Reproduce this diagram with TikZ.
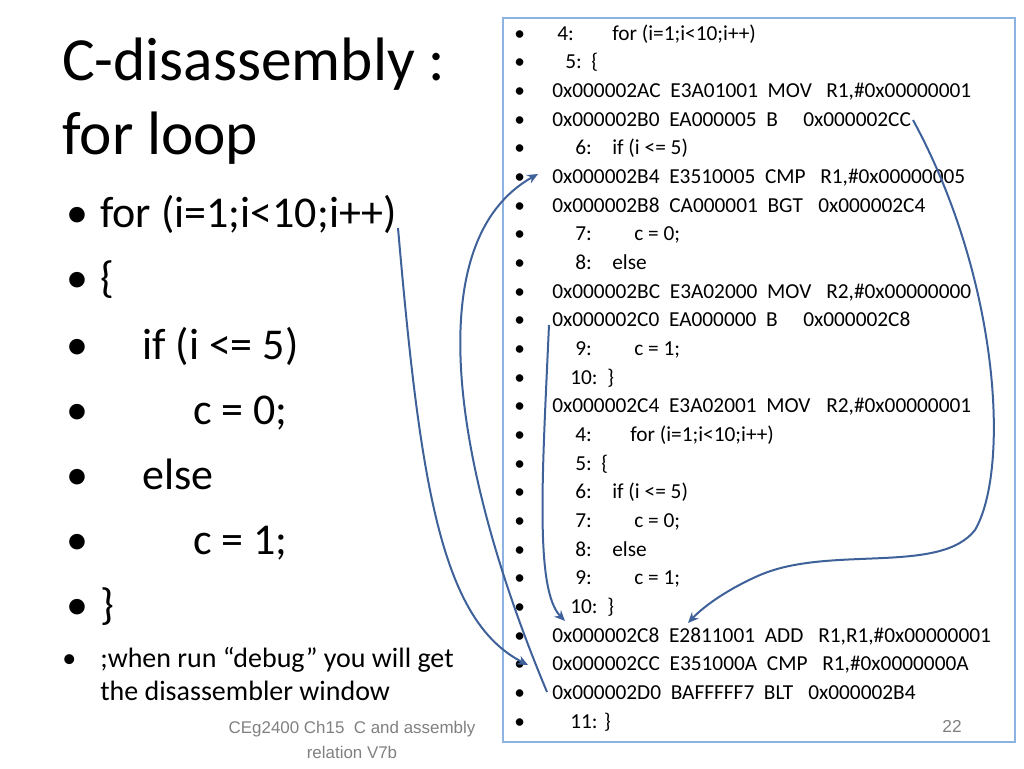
\documentclass[tikz,border=0pt]{standalone}
\usepackage{fontspec}
\usetikzlibrary{arrows.meta}
\setmainfont{Carlito}
\newfontfamily\arialf{Liberation Sans}
\begin{document}
\begin{tikzpicture}[x=0.75pt,y=-0.75pt,
  r/.style={anchor=base west,inner sep=0,font=\fontsize{16}{18}\selectfont},
  lb/.style={anchor=base west,inner sep=0,font=\fontsize{33}{38}\selectfont},
  arr/.style={draw=arrc,line width=1.5pt,-{Stealth[length=8pt,width=7pt]}}]
\definecolor{arrc}{HTML}{3F6199}
\definecolor{boxc}{HTML}{8DB3E2}
\useasboundingbox (0,0) rectangle (1024,768);
\draw[boxc,line width=0.8pt] (503,18) rectangle (1015,742);
% title
\node[anchor=base west,inner sep=0,font=\fontsize{46}{50}\selectfont] (t1) at (62,80) {C-disassembly :};
\node[anchor=base west,inner sep=0,font=\fontsize{46}{50}\selectfont] (t2) at (62,154) {for loop};
% left bullets
\foreach \y/\xx/\t [count=\i] in {227/100/{for (i=1;i<10;i++)},292/100/{\{},359/142/{if (i <= 5)},424/193/{c = 0;},489/142/{else},554/193/{c = 1;},619/100/{\}}}{
  \node[lb] (bl\i) at (66,\y) {•};
  \node[lb] (lt\i) at (\xx,\y) {\t};
}
\node[anchor=base west,inner sep=0,font=\fontsize{21}{25}\selectfont] (wb) at (62,667) {•};
\node[anchor=base west,inner sep=0,font=\fontsize{21}{25}\selectfont] (w1) at (100,667) {;when run “debug” you will get};
\node[anchor=base west,inner sep=0,font=\fontsize{21}{25}\selectfont] (w2) at (100,700) {the disassembler window};
\node[font=\arialf\fontsize{12.7}{19}\selectfont,text=gray,align=center,inner sep=0] (ft) at (352,740) {CEg2400 Ch15\ \ C and assembly\\relation V7b};
\node[font=\arialf\fontsize{13}{15}\selectfont,text=gray,inner sep=0] (pg) at (952,726) {22};
% right bullets
\foreach \i in {0,...,24}{ \node[r] (rb\i) at (514,40+\i*28.67) {•}; }
\newcommand{\Y}[1]{40+#1*28.67}
% source lines
\node[r] (s4) at (557,{\Y{0}}) {4:}; \node[r] at (612,{\Y{0}}) {for (i=1;i<10;i++)};
\node[r] (s5) at (565,{\Y{1}}) {5:\ \ \{};
\node[r] (a1) at (552,{\Y{2}}) {0x000002AC\ \ E3A01001\ \ MOV}; \node[r] at (826,{\Y{2}}) {R1,\#0x00000001};
\node[r] (a2) at (552,{\Y{3}}) {0x000002B0\ \ EA000005\ \ B}; \node[r] (a2t) at (803,{\Y{3}}) {0x000002CC};
\node[r] at (575,{\Y{4}}) {6:}; \node[r] at (612,{\Y{4}}) {if (i <= 5)};
\node[r] (a3) at (552,{\Y{5}}) {0x000002B4\ \ E3510005\ \ CMP}; \node[r] at (820,{\Y{5}}) {R1,\#0x00000005};
\node[r] (a4) at (552,{\Y{6}}) {0x000002B8\ \ CA000001\ \ BGT}; \node[r] at (818,{\Y{6}}) {0x000002C4};
\node[r] at (575,{\Y{7}}) {7:}; \node[r] at (634,{\Y{7}}) {c = 0;};
\node[r] at (575,{\Y{8}}) {8:}; \node[r] at (612,{\Y{8}}) {else};
\node[r] (a5) at (552,{\Y{9}}) {0x000002BC\ \ E3A02000\ \ MOV}; \node[r] at (826,{\Y{9}}) {R2,\#0x00000000};
\node[r] (a6) at (552,{\Y{10}}) {0x000002C0\ \ EA000000\ \ B}; \node[r] at (803,{\Y{10}}) {0x000002C8};
\node[r] at (575,{\Y{11}}) {9:}; \node[r] at (634,{\Y{11}}) {c = 1;};
\node[r] at (570,{\Y{12}}) {10:\ \ \}};
\node[r] (a7) at (552,{\Y{13}}) {0x000002C4\ \ E3A02001\ \ MOV}; \node[r] at (826,{\Y{13}}) {R2,\#0x00000001};
\node[r] at (575,{\Y{14}}) {4:}; \node[r] at (630,{\Y{14}}) {for (i=1;i<10;i++)};
\node[r] at (575,{\Y{15}}) {5:\ \ \{};
\node[r] at (575,{\Y{16}}) {6:}; \node[r] at (612,{\Y{16}}) {if (i <= 5)};
\node[r] at (575,{\Y{17}}) {7:}; \node[r] at (634,{\Y{17}}) {c = 0;};
\node[r] at (575,{\Y{18}}) {8:}; \node[r] at (612,{\Y{18}}) {else};
\node[r] at (575,{\Y{19}}) {9:}; \node[r] at (634,{\Y{19}}) {c = 1;};
\node[r] at (570,{\Y{20}}) {10:\ \ \}};
\node[r] (a8) at (552,{\Y{21}}) {0x000002C8\ \ E2811001\ \ ADD}; \node[r] at (818,{\Y{21}}) {R1,R1,\#0x00000001};
\node[r] (a9) at (552,{\Y{22}}) {0x000002CC\ \ E351000A\ \ CMP}; \node[r] at (822,{\Y{22}}) {R1,\#0x0000000A};
\node[r] (a10) at (552,{\Y{23}}) {0x000002D0\ \ BAFFFFF7\ \ BLT}; \node[r] at (808,{\Y{23}}) {0x000002B4};
\node[r] at (570,{\Y{24}}) {11: \}};
% connector end points
\coordinate (p1) at (398,228); \coordinate (q1) at (528,665);
\coordinate (p2) at (547,692); \coordinate (q2) at (538,174);
\coordinate (p3) at (549,325); \coordinate (q3) at (565,621);
\coordinate (p4) at (913,120); \coordinate (q4) at (688,623);
\draw[arr] (p1) .. controls (420,480) and (440,620) .. (q1);
\draw[arr] (p2) .. controls (450,460) and (420,240) .. (q2);
\draw[arr] (p3) .. controls (542,480) and (535,590) .. (q3);
\draw[arr] (p4) .. controls (1000,280) and (1010,470) .. (975,530)
  .. controls (940,575) and (830,545) .. (760,575)
  .. controls (730,588) and (705,605) .. (q4);
\end{tikzpicture}
\end{document}
